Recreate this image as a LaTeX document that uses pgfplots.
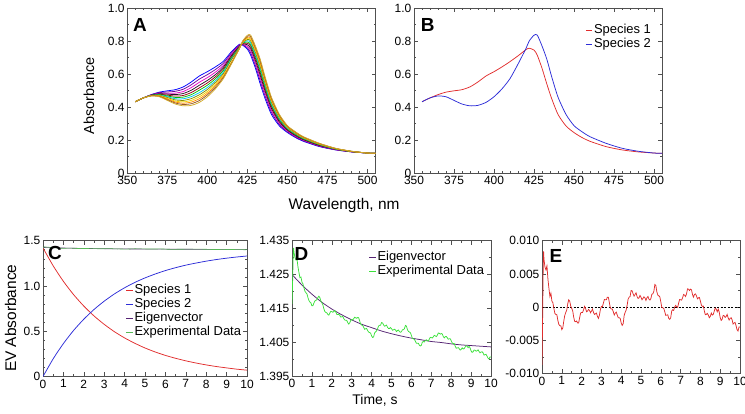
\documentclass[border=0pt]{standalone}
\usepackage{fontspec}
\setmainfont{Liberation Sans}
\usepackage{pgfplots}
\pgfplotsset{compat=1.18}
\usepackage{pgfplotstable}

\definecolor{sred}{RGB}{225,45,45}
\definecolor{sblue}{RGB}{45,45,215}
\definecolor{evpurple}{RGB}{85,35,115}
\definecolor{expgreen}{RGB}{60,225,60}
\definecolor{frame}{RGB}{80,80,80}
\definecolor{kA}{RGB}{0,0,255}
\definecolor{kB}{RGB}{110,0,160}
\definecolor{kC}{RGB}{230,0,200}
\definecolor{kD}{RGB}{40,20,40}
\definecolor{kE}{RGB}{150,0,20}
\definecolor{kF}{RGB}{0,190,0}
\definecolor{kG}{RGB}{0,200,240}
\definecolor{kH}{RGB}{140,140,0}
\definecolor{kI}{RGB}{240,210,0}
\definecolor{kJ}{RGB}{255,140,0}
\definecolor{kK}{RGB}{150,90,40}
\definecolor{kL}{RGB}{210,170,40}

\pgfplotstableread{
nm c0 c1 c2 c3 c4 c5 c6 c7 c8 c9 c10 c11
355 0.432 0.432 0.432 0.432 0.432 0.432 0.432 0.432 0.432 0.432 0.432 0.432
360 0.455 0.455 0.455 0.455 0.455 0.455 0.455 0.455 0.455 0.455 0.455 0.455
365 0.475 0.474 0.473 0.472 0.471 0.471 0.470 0.469 0.469 0.468 0.468 0.467
370 0.490 0.487 0.483 0.480 0.477 0.475 0.472 0.470 0.468 0.466 0.464 0.462
375 0.498 0.491 0.484 0.478 0.472 0.467 0.462 0.457 0.452 0.448 0.444 0.440
380 0.505 0.495 0.484 0.475 0.466 0.458 0.450 0.443 0.436 0.430 0.424 0.418
385 0.522 0.508 0.494 0.482 0.470 0.460 0.450 0.440 0.431 0.423 0.415 0.407
390 0.552 0.535 0.518 0.502 0.488 0.475 0.463 0.451 0.440 0.430 0.420 0.410
395 0.588 0.569 0.550 0.532 0.516 0.502 0.487 0.474 0.462 0.450 0.439 0.428
400 0.614 0.596 0.578 0.561 0.546 0.532 0.518 0.506 0.494 0.483 0.473 0.462
405 0.643 0.627 0.611 0.596 0.583 0.571 0.559 0.549 0.538 0.529 0.519 0.510
410 0.677 0.665 0.652 0.641 0.631 0.621 0.611 0.602 0.594 0.586 0.579 0.572
415 0.735 0.727 0.719 0.711 0.703 0.697 0.691 0.685 0.671 0.667 0.664 0.660
420 0.780 0.777 0.773 0.769 0.765 0.762 0.760 0.758 0.754 0.754 0.755 0.755
422 0.775 0.778 0.781 0.783 0.785 0.787 0.789 0.791 0.791 0.794 0.797 0.800
425 0.750 0.758 0.767 0.777 0.786 0.794 0.802 0.809 0.816 0.822 0.829 0.835
427 0.715 0.730 0.744 0.757 0.770 0.780 0.791 0.801 0.811 0.819 0.828 0.836
430 0.635 0.651 0.667 0.682 0.696 0.708 0.720 0.731 0.742 0.751 0.761 0.770
433 0.540 0.558 0.576 0.593 0.608 0.621 0.635 0.647 0.659 0.669 0.680 0.690
436 0.452 0.468 0.484 0.499 0.512 0.524 0.536 0.546 0.557 0.566 0.576 0.585
440 0.355 0.368 0.380 0.392 0.402 0.412 0.421 0.430 0.438 0.445 0.453 0.460
445 0.285 0.293 0.302 0.310 0.317 0.323 0.329 0.335 0.340 0.345 0.350 0.355
450 0.245 0.250 0.255 0.260 0.264 0.268 0.271 0.275 0.278 0.281 0.284 0.287
455 0.215 0.219 0.223 0.227 0.231 0.234 0.237 0.240 0.243 0.245 0.248 0.250
460 0.192 0.195 0.199 0.202 0.205 0.207 0.210 0.212 0.214 0.216 0.218 0.220
470 0.160 0.162 0.165 0.167 0.169 0.171 0.173 0.174 0.176 0.177 0.179 0.180
480 0.140 0.141 0.142 0.144 0.145 0.145 0.146 0.147 0.148 0.149 0.149 0.150
490 0.128 0.128 0.129 0.129 0.130 0.130 0.131 0.131 0.131 0.131 0.132 0.132
500 0.121 0.121 0.121 0.121 0.121 0.121 0.121 0.121 0.121 0.121 0.121 0.121
505 0.119 0.119 0.119 0.119 0.119 0.119 0.119 0.119 0.119 0.119 0.119 0.119
}\tabA

\pgfplotstableread{
nm s1 s2
355 0.432 0.432
360 0.455 0.455
365 0.475 0.467
370 0.490 0.462
375 0.498 0.440
380 0.505 0.418
385 0.522 0.407
390 0.552 0.410
395 0.588 0.428
400 0.614 0.462
405 0.643 0.510
410 0.675 0.572
415 0.710 0.660
420 0.748 0.755
422 0.756 0.800
425 0.745 0.835
427 0.715 0.836
430 0.635 0.770
433 0.540 0.690
436 0.452 0.585
440 0.355 0.460
445 0.285 0.355
450 0.245 0.287
455 0.215 0.250
460 0.192 0.220
470 0.160 0.180
480 0.140 0.150
490 0.128 0.132
500 0.121 0.121
505 0.119 0.119
}\tabB

\pgfplotstableread{
t red blue eig
0 1.420 0.000 1.4250
0.5 1.222 0.196 1.4219
1 1.051 0.364 1.4192
1.5 0.904 0.509 1.4168
2 0.778 0.633 1.4148
2.5 0.669 0.740 1.4131
3 0.576 0.832 1.4116
3.5 0.495 0.912 1.4103
4 0.426 0.980 1.4093
4.5 0.367 1.039 1.4083
5 0.315 1.089 1.4075
5.5 0.271 1.132 1.4068
6 0.233 1.170 1.4062
6.5 0.201 1.202 1.4057
7 0.173 1.230 1.4052
7.5 0.149 1.253 1.4049
8 0.128 1.274 1.4045
8.5 0.110 1.292 1.4042
9 0.095 1.307 1.4040
9.5 0.081 1.320 1.4038
10 0.070 1.331 1.4036
}\tabC

\pgfplotstableread{
t r g
0 -0.0087 1.41630
0.03 -0.0020 1.42280
0.06 0.0060 1.43060
0.08 0.0084 1.43287
0.1 0.0072 1.43153
0.15 0.0060 1.43001
0.2 0.0056 1.42929
0.25 0.0062 1.42957
0.3 0.0042 1.42726
0.35 0.0028 1.42555
0.4 0.0016 1.42405
0.45 0.0021 1.42425
0.5 0.0009 1.42276
0.55 0.00065 1.42222
0.6 -0.0002 1.42108
0.65 -0.00095 1.42006
0.7 -0.0011 1.41963
0.75 -0.00115 1.41931
0.8 -0.0020 1.41819
0.85 -0.0026 1.41733
0.9 -0.0028 1.41686
0.95 -0.0028 1.41661
1.0 -0.0034 1.41575
1.05 -0.00315 1.41576
1.1 -0.0021 1.41656
1.15 -0.00125 1.41717
1.2 -0.0008 1.41738
1.25 -0.00045 1.41750
1.3 0.0005 1.41821
1.35 0.0011 1.41859
1.4 0.0009 1.41816
1.45 0.00015 1.41720
1.5 -0.0002 1.41663
1.55 -0.00055 1.41607
1.6 -0.0015 1.41490
1.65 -0.00215 1.41405
1.7 -0.0022 1.41379
1.75 -0.0021 1.41369
1.8 -0.0024 1.41319
1.85 -0.0024 1.41300
1.9 -0.0016 1.41360
1.95 -0.0009 1.41411
2.0 -0.0008 1.41402
2.05 -0.0008 1.41384
2.1 -0.0004 1.41406
2.15 0.0001 1.41438
2.2 -0.0002 1.41390
2.25 -0.0007 1.41323
2.3 -0.0006 1.41316
2.35 -0.00035 1.41325
2.4 -0.0005 1.41293
2.45 -0.00085 1.41242
2.5 -0.0006 1.41250
2.55 -0.0003 1.41265
2.6 -0.0008 1.41199
2.65 -0.0011 1.41154
2.7 -0.0010 1.41148
2.75 -0.0009 1.41144
2.8 -0.0014 1.41079
2.85 -0.0017 1.41035
2.9 -0.0012 1.41070
2.95 -0.00035 1.41141
3.0 0.0001 1.41172
3.05 0.00005 1.41154
3.1 0.0006 1.41195
3.15 0.00115 1.41237
3.2 0.0011 1.41219
3.25 0.0011 1.41206
3.3 0.0015 1.41233
3.35 0.0015 1.41221
3.4 0.0007 1.41129
3.45 -0.0001 1.41037
3.5 -0.0003 1.41005
3.55 -0.0003 1.40993
3.6 -0.0007 1.40941
3.65 -0.0012 1.40880
3.7 -0.0009 1.40899
3.75 -0.00075 1.40903
3.8 -0.0012 1.40847
3.85 -0.0016 1.40797
3.9 -0.0016 1.40786
3.95 -0.0017 1.40766
4.0 -0.0024 1.40685
4.05 -0.00275 1.40640
4.1 -0.0025 1.40655
4.15 -0.00125 1.40771
4.2 -0.0008 1.40806
4.25 -0.00045 1.40832
4.3 0.0003 1.40897
4.35 0.0012 1.40978
4.4 0.0015 1.40998
4.45 0.0016 1.41000
4.5 0.0025 1.41081
4.55 0.00245 1.41068
4.6 0.0020 1.41014
4.65 0.00165 1.40971
4.7 0.0019 1.40987
4.75 0.00215 1.41004
4.8 0.0016 1.40941
4.85 0.0013 1.40903
4.9 0.0014 1.40905
4.95 0.00175 1.40933
5.0 0.0015 1.40900
5.05 0.0011 1.40853
5.1 0.0013 1.40865
5.15 0.00155 1.40883
5.2 0.0014 1.40860
5.25 0.0010 1.40813
5.3 0.0014 1.40846
5.35 0.0016 1.40860
5.4 0.0012 1.40813
5.45 0.00105 1.40792
5.5 0.0013 1.40810
5.55 0.00195 1.40869
5.6 0.0020 1.40867
5.65 0.0024 1.40901
5.7 0.0034 1.40995
5.75 0.00325 1.40974
5.8 0.0023 1.40873
5.85 0.0018 1.40817
5.9 0.0017 1.40801
5.95 0.00155 1.40781
6.0 0.0008 1.40700
6.05 -0.00005 1.40610
6.1 -0.0001 1.40599
6.15 -0.0002 1.40584
6.2 -0.0007 1.40528
6.25 -0.00125 1.40468
6.3 -0.0012 1.40468
6.35 -0.00115 1.40468
6.4 -0.0017 1.40408
6.45 -0.00185 1.40388
6.5 -0.0016 1.40408
6.55 -0.0006 1.40504
6.6 -0.0004 1.40519
6.65 -0.0005 1.40505
6.7 0.0000 1.40550
6.75 0.00025 1.40571
6.8 0.0001 1.40551
6.85 -0.00005 1.40532
6.9 0.0006 1.40592
6.95 0.00115 1.40643
7.0 0.0011 1.40634
7.05 0.00105 1.40625
7.1 0.0014 1.40656
7.15 0.0019 1.40702
7.2 0.0018 1.40688
7.25 0.0016 1.40664
7.3 0.0020 1.40700
7.35 0.00275 1.40772
7.4 0.0027 1.40763
7.45 0.0025 1.40739
7.5 0.0027 1.40755
7.55 0.0026 1.40742
7.6 0.0019 1.40669
7.65 0.0015 1.40626
7.7 0.0019 1.40662
7.75 0.0020 1.40669
7.8 0.0017 1.40635
7.85 0.00125 1.40587
7.9 0.0014 1.40599
7.95 0.00145 1.40601
8.0 0.0009 1.40543
8.05 0.0003 1.40480
8.1 0.0001 1.40457
8.15 0.00015 1.40459
8.2 -0.0006 1.40381
8.25 -0.00115 1.40323
8.3 -0.0011 1.40325
8.35 -0.00095 1.40338
8.4 -0.0012 1.40310
8.45 -0.0016 1.40267
8.5 -0.0014 1.40284
8.55 -0.0009 1.40332
8.6 -0.0012 1.40299
8.65 -0.0011 1.40307
8.7 -0.0006 1.40354
8.75 -0.00015 1.40397
8.8 -0.0003 1.40379
8.85 -0.0007 1.40337
8.9 -0.0003 1.40375
8.95 -0.00075 1.40328
9.0 -0.0016 1.40240
9.05 -0.0020 1.40198
9.1 -0.0018 1.40216
9.15 -0.00125 1.40269
9.2 -0.0013 1.40261
9.25 -0.00155 1.40234
9.3 -0.0014 1.40247
9.35 -0.0011 1.40275
9.4 -0.0016 1.40223
9.45 -0.00195 1.40186
9.5 -0.0017 1.40209
9.55 -0.0016 1.40217
9.6 -0.0019 1.40185
9.65 -0.00255 1.40118
9.7 -0.0024 1.40131
9.75 -0.0023 1.40140
9.8 -0.0028 1.40088
9.85 -0.0034 1.40026
9.9 -0.0036 1.40004
9.95 -0.0030 1.40063
10.0 -0.0030 1.40061
}\tabD

\newcommand\tfont{\fontsize{12}{12}\selectfont}
\newcommand\lfont{\fontsize{13}{13}\selectfont}
\newcommand\pfont{\fontsize{19}{19}\selectfont\bfseries}

\pgfplotsset{
  panel/.style={
    scale only axis,
    axis line style={frame, line width=0.7bp},
    every tick/.style={frame, line width=0.6bp},
    major tick length=4bp, minor tick length=2bp,
    tick align=inside, tick pos=both,
    scaled x ticks=false, scaled y ticks=false,
    ticklabel style={font=\tfont, text=black},
    yticklabel style={inner sep=2.5bp},
    xticklabel style={inner sep=3bp},
    clip mode=individual,
    legend cell align=left,
    legend style={draw=none, fill=none, font=\lfont, inner sep=0pt, row sep=0pt,
      nodes={inner sep=1bp, text height=9bp, text depth=3bp}},
    legend image code/.code={\draw[##1, line width=1.2bp] (0bp,0bp) -- (6.5bp,0bp);},
  },
  spec/.style={line width=0.75bp, smooth, tension=0.4, mark=none},
}

\begin{document}
\begin{tikzpicture}

% ---------------- A ----------------
\begin{axis}[panel, at={(127.3bp,241bp)}, anchor=south west, width=248.2bp, height=165bp,
  xmin=350, xmax=505, ymin=0, ymax=1,
  xtick={350,375,400,425,450,475,500}, minor x tick num=4,
  ytick={0,0.2,0.4,0.6,0.8,1.0}, yticklabels={0,0.2,0.4,0.6,0.8,1.0}, minor y tick num=1,
  xticklabels={350,375,400,425,450,475,500}]
\addplot[spec, kA] table[x=nm, y=c0] {\tabA};
\addplot[spec, kB] table[x=nm, y=c1] {\tabA};
\addplot[spec, kC] table[x=nm, y=c2] {\tabA};
\addplot[spec, kD] table[x=nm, y=c3] {\tabA};
\addplot[spec, kE] table[x=nm, y=c4] {\tabA};
\addplot[spec, kF] table[x=nm, y=c5] {\tabA};
\addplot[spec, kG] table[x=nm, y=c6] {\tabA};
\addplot[spec, kH] table[x=nm, y=c7] {\tabA};
\addplot[spec, kI] table[x=nm, y=c8] {\tabA};
\addplot[spec, kJ] table[x=nm, y=c9] {\tabA};
\addplot[spec, kK] table[x=nm, y=c10] {\tabA};
\addplot[spec, kL] table[x=nm, y=c11] {\tabA};
\node[font=\pfont, anchor=base west, inner sep=0] at (rel axis cs:0.023,0.855) {A};
\end{axis}

% ---------------- B ----------------
\begin{axis}[panel, at={(414bp,241bp)}, anchor=south west, width=248bp, height=165bp,
  xmin=350, xmax=505, ymin=0, ymax=1,
  xtick={350,375,400,425,450,475,500}, minor x tick num=4,
  xticklabels={350,375,400,425,450,475,500},
  ytick={0,0.2,0.4,0.6,0.8,1.0}, yticklabels={0,0.2,0.4,0.6,0.8,1.0}, minor y tick num=1,
  legend style={at={(rel axis cs:0.69,0.905)}, anchor=north west}]
\addplot[spec, sred] table[x=nm, y=s1] {\tabB};
\addplot[spec, sblue] table[x=nm, y=s2] {\tabB};
\legend{Species 1, Species 2}
\node[font=\pfont, anchor=base west, inner sep=0] at (rel axis cs:0.027,0.855) {B};
\end{axis}

% ---------------- C ----------------
\begin{axis}[panel, at={(43bp,37.5bp)}, anchor=south west, width=204bp, height=135.8bp,
  xmin=0, xmax=10, ymin=0, ymax=1.5,
  xtick={0,1,...,10}, xticklabels={0,1,2,3,4,5,6,7,8,9,10}, minor x tick num=1,
  ytick={0,0.5,1.0,1.5}, yticklabels={0,0.5,1.0,1.5}, minor y tick num=4,
  legend style={at={(rel axis cs:0.405,0.685)}, anchor=north west}]
\addplot[spec, sred] table[x=t, y=red] {\tabC};
\addplot[spec, sblue] table[x=t, y=blue] {\tabC};
\addplot[line width=0.6bp, evpurple, smooth] table[x=t, y=eig] {\tabC};
\addplot[line width=0.6bp, expgreen!60!gray] table[x=t, y=g] {\tabD};
\legend{Species 1, Species 2, Eigenvector, Experimental Data}
\node[font=\pfont, anchor=base west, inner sep=0] at (rel axis cs:0.0245,0.858) {C};
\end{axis}

% ---------------- D ----------------
\begin{axis}[panel, at={(292bp,38bp)}, anchor=south west, width=199bp, height=135.3bp,
  xmin=0, xmax=10, ymin=1.395, ymax=1.435,
  xtick={0,1,...,10}, xticklabels={0,1,2,3,4,5,6,7,8,9,10}, minor x tick num=1,
  ytick={1.395,1.405,1.415,1.425,1.435}, yticklabels={1.395,1.405,1.415,1.425,1.435},
  minor y tick num=1,
  legend style={at={(rel axis cs:0.385,0.93)}, anchor=north west}]
\addplot[line width=0.75bp, evpurple, smooth] table[x=t, y=eig] {\tabC};
\addplot[line width=0.75bp, expgreen] table[x=t, y=g] {\tabD};
\legend{Eigenvector, Experimental Data}
\node[font=\pfont, anchor=base west, inner sep=0] at (rel axis cs:0.012,0.857) {D};
\end{axis}

% ---------------- E ----------------
\begin{axis}[panel, at={(542bp,40.5bp)}, anchor=south west, width=198bp, height=132.8bp,
  xmin=0, xmax=10, ymin=-0.01, ymax=0.01,
  xtick={0,1,...,10}, xticklabels={0,1,2,3,4,5,6,7,8,9,10}, minor x tick num=1,
  ytick={-0.01,-0.005,0,0.005,0.01}, yticklabels={-0.010,-0.005,0,0.005,0.010},
  minor y tick num=1]
\addplot[black, line width=0.6bp, dash pattern=on 2bp off 1.5bp] coordinates {(0,0) (10,0)};
\addplot[line width=0.75bp, sred] table[x=t, y=r] {\tabD};
\node[font=\pfont, anchor=base west, inner sep=0] at (rel axis cs:0.037,0.837) {E};
\end{axis}

% ---------------- axis labels ----------------
\node[font=\fontsize{14.5}{14.5}\selectfont, rotate=90, anchor=base] at (94bp,318.2bp) {Absorbance};
\node[font=\fontsize{15.5}{15.5}\selectfont, anchor=base] at (344bp,204bp) {Wavelength, nm};
\node[font=\fontsize{15.5}{15.5}\selectfont, rotate=90, anchor=base] at (16bp,95.7bp) {EV Absorbance};
\node[font=\fontsize{14}{14}\selectfont, anchor=base] at (375bp,10bp) {Time, s};

\pgfresetboundingbox
\useasboundingbox (0bp,0bp) rectangle (745bp,414bp);
\end{tikzpicture}
\end{document}
